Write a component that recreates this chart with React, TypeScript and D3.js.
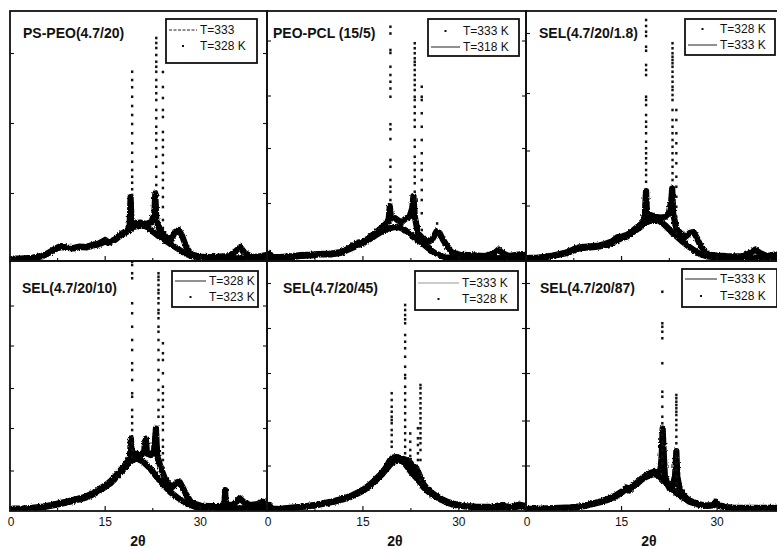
import React from 'react';
import * as d3 from 'd3';

type Pt = [number, number];
type Col = [number, number[]];

// ---------- Panel 1: PS-PEO(4.7/20) ----------
const p1Line: Pt[] = [[0.5,0.8],[2,0.9],[3.5,1.2],[5,1.8],[6,3],[7,4.6],[8,5.6],[9,5.2],[10,5],[11,5.6],[12,5.4],[13,6.2],[14,6.6],[15,7.8],[15.5,7.2],[16.5,8.4],[17.5,10.4],[18.5,11.8],[19.5,13.6],[20.5,14.4],[21.5,13.8],[22.5,11.8],[23.5,9.8],[24.5,8.2],[25.5,6.4],[26.5,4.8],[27.5,3.2],[28.5,2],[30,1.4],[32,1.1],[34,1.2],[36,1.1],[38,1.0],[40.4,1.1]];
const p1DotBase: Pt[] = [[0.5,1],[2,1],[3.5,1.3],[5,2],[6,3.2],[7,4.8],[8,6],[9,5.4],[10,5.2],[11,5.8],[12,5.6],[13,6.4],[14,7],[15,8.4],[15.5,7.4],[16.5,8.6],[17.5,10.8],[18.5,12.2],[18.85,14],[19.0,25.6],[19.15,15.2],[19.5,15],[20.5,15.4],[21.5,14.8],[22.3,15.6],[22.75,19],[22.9,27],[23.05,16.5],[23.5,13],[24.5,9.8],[25.3,8],[26,11.6],[26.6,12.4],[27.1,10.2],[27.8,5.4],[28.6,2.6],[30,1.8],[31.5,1.6],[33,1.8],[34.5,2],[35.5,3.8],[36.3,5.6],[37,3.2],[38,1.8],[39,1.7],[40.4,2.4]];
const p1DotCols: Col[] = [
  [19.25, [75.7,72.4,69.5,65.7,62,58.4,54.8,51.1,47.1,43.3,39.7,36.4,33.7,31.3,28.7,26.4]],
  [23.05, [89.2,87.2,85.2,82.4,79.7,77.7,75.7,72.4,69.7,67.1,64.4,60.4,57.1,53.7,51.1,48.4,45.1,41.7,37.7,33.7,30.4,27.7]],
  [24.1, [75.6,69.6,65.2,60.4,57.6,51.6,48.4,45.6,42.4,39.2,35.2,32.4,29.2,25.6,21.6,16.4,13.2]],
];
const p1YTicks = [27, 55, 83];

// ---------- Panel 2: PEO-PCL (15/5) ----------
const p2Line: Pt[] = [[0.5,1.2],[2,1.1],[4,1.6],[5.25,2],[7,2.2],[8,2.6],[10,2.6],[11.5,3.2],[12.6,4.4],[13.5,5.4],[14.2,6.4],[15,7],[15.8,8.4],[16.5,9.4],[17.3,10.8],[18.2,12.2],[19,13],[20,13.6],[21,13.2],[22,11.7],[23.1,9.1],[24.2,7.3],[25.2,5.1],[26.3,3.1],[27.8,1.5],[29.5,1.1],[32,1.1],[35,1.2],[38,1.1],[40.4,1.2]];
const p2DotBase: Pt[] = [[0.3,3.2],[0.8,1.6],[2,1.6],[4,2],[5.25,2.4],[7,2.6],[8,2.8],[10,3],[11.5,3.6],[12.6,4.8],[13.5,6.2],[14.2,7.4],[15,7.6],[15.8,9],[16.5,10.4],[17.3,12],[18.2,14],[18.8,15.4],[19.05,17],[19.2,22],[19.4,17],[20,17.2],[20.5,16.2],[21,15.4],[21.6,16.8],[22.3,17.8],[22.7,21],[22.9,26],[23.1,18],[23.6,11],[24.5,8.6],[25.2,7.6],[25.8,8.4],[26.5,11.8],[27,11.2],[27.5,8.6],[28,6.6],[28.9,3.4],[30,2.6],[31.5,2.4],[33,2.2],[34.1,2],[35.5,3],[36.2,4.6],[36.8,3.2],[37.8,2],[38.8,2.4],[39.9,2.8],[40.4,2.2]];
const p2DotCols: Col[] = [
  [19.3, [93.7,91,84.4,83.2,77.7,74.4,71.7,69,65.7,54.7,52.7,48.8,40.4,37.7,32.4,29.7,27.7,24.4]],
  [23.1, [87.1,85.1,83.1,81.1,79.7,78.4,76.4,74.4,72.4,70.4,68.4,65.7,64.4,61.7,59.1,56.4,53.7,48.4,45.7,41.7,39.1,36.4,33.7,31.1,27.7,24.4]],
  [24.2, [69.7,65.7,64.4,59.1,53.7,48.4,43.1,39.1,36.4,32.4,28.4,24.4,19.1,12.4]],
  [26.6, [15]],
];
const p2YTicks = [23, 45, 66, 88];

// ---------- Panel 3: SEL(4.7/20/1.8) ----------
const p3Line: Pt[] = [[0.5,1.1],[1.6,1.1],[3,1.5],[4.2,2],[5.3,2.6],[6.3,3.1],[7.4,4.2],[8.4,5.1],[9.5,5.3],[10.5,5.5],[11.5,5.8],[12.6,6.4],[13.5,7.2],[14.4,8.4],[15.1,9.2],[15.8,9.7],[16.5,11],[17.3,12.4],[18,13.6],[18.6,15],[19.7,16.4],[20.7,16.4],[21.8,14.4],[23.1,11],[24.4,8.1],[25.7,5.5],[27.3,2.8],[28.5,1.8],[29.4,1.5],[32.6,1.5],[36,1.4],[38,1.3],[40.4,1.4]];
const p3DotBase: Pt[] = [[0.5,1.3],[1.6,1.3],[3,1.7],[4.2,2.2],[5.3,2.8],[6.3,3.4],[7.4,4.6],[8.4,5.5],[9.5,5.8],[10.5,6],[11.5,6.2],[12.6,7],[13.5,7.8],[14.4,9.6],[15.1,9.8],[15.8,10.4],[16.5,11.6],[17.3,13.2],[18,14.6],[18.5,16],[18.7,21],[18.85,28],[19.0,18],[19.5,18.4],[20.2,17.8],[21,17.4],[21.8,17.6],[22.4,19],[22.8,24],[22.95,29],[23.1,19],[23.6,13],[24.3,11],[25,9.6],[25.7,11.2],[26.3,11.6],[26.8,9.4],[27.3,6.6],[28,4],[28.6,2.6],[30,2.2],[31.5,2],[33,1.9],[34.1,2],[35.3,3.4],[36,4.6],[36.6,3.4],[37.8,2],[39.1,2.6],[40.4,2.2]];
const p3DotCols: Col[] = [
  [18.85, [96.4,94,91.7,90,85.7,84.1,78.4,76.4,74.4,65.7,64.4,62.4,58.4,55.7,53.7,51.1,47.7,45.1,43.1,41.1,39.1,36.4,34.4,31.7]],
  [23.0, [87.1,85.1,83.1,81.7,80.4,79.1,77.7,75.7,73.7,71.7,69.7,68.4,66.4,64.4,60.4,56.4,53.7,51.1,48.4,45.7,43.1,40.4,37.7,35.1,32.4]],
  [23.6, [60.4,56.4,51.1,47.1,43.1,39.1,33.7,29.7,25.7,21.7,17.7,13.7,11.1]],
];
const p3YTicks = [22, 44, 67, 91];

// ---------- Panel 4: SEL(4.7/20/10) ----------
const p4Line: Pt[] = [[0.5,0.8],[2.1,0.8],[3.5,1.1],[5.25,1.5],[6.5,2.1],[7.9,2.8],[9,3.4],[10.5,4.4],[11.5,5],[12.6,6],[13.5,7.2],[14.2,8.4],[15,9.6],[15.8,11],[16.5,12.8],[17.3,15],[18,17],[18.6,19],[19.3,20.4],[20,21],[21,19.7],[22.1,17],[23.1,13.7],[24.2,10.4],[25.2,7.7],[26.3,5.5],[27.8,3.1],[29.4,1.5],[32.6,1.1],[36,1.1],[40.4,1.2]];
const p4DotBase: Pt[] = [[0.5,1],[2.1,1],[3.5,1.3],[5.25,1.8],[6.5,2.4],[7.9,3.2],[9,3.8],[10.5,4.8],[11.5,5.4],[12.6,6.6],[13.5,7.8],[14.2,9],[15,10.2],[15.8,11.8],[16.5,13.6],[17.3,16],[18,18],[18.6,20],[18.9,21.5],[19.05,29],[19.2,22],[19.8,23],[20.5,22.4],[21.1,23.6],[21.4,29],[21.6,23],[22.2,22.4],[22.7,24],[23.0,33],[23.2,22],[23.8,17],[24.5,12.4],[25.5,9.4],[26.3,11.4],[26.7,11.8],[27.3,9],[27.8,6.4],[28.6,3.2],[30,2.2],[31.5,2],[33,2],[33.8,2.4],[33.9,8.4],[34.0,2.4],[35.2,2.6],[36.2,5.1],[37,3.2],[37.8,2.4],[39,2.8],[39.9,3.7],[40.4,3]];
const p4DotCols: Col[] = [
  [19.25, [99.7,98.4,95.1,93.1,83.1,79.1,73.7,68.4,64.4,59.1,56.4,52.4,47.1,45.7,40.4,37.7,35.1,32.4,29.7,27.1,24.4,21.7]],
  [23.4, [95.1,93.7,92.4,90.4,88.4,87.1,85.1,83.1,80.4,79.1,77.1,73.7,71.7,68.4,64.4,60.4,56.4,52.4,48.4,44.4,40.4,37.7]],
  [24.1, [67.1,63.1,60.4,55.1,49.7,47.1,44.4,41.7,37.7,35.1,32.4,28.4,25.7,23.1,20.4,17.7,13.7]],
];
const p4YTicks = [16, 33, 49, 66, 82];

// ---------- Panel 5: SEL(4.7/20/45) ----------
const p5Line: Pt[] = [[0.5,0.8],[2.1,0.7],[3.5,1.1],[5.25,1.5],[6.5,1.9],[7.9,2.4],[9,3],[10.5,3.7],[11.8,4.6],[13.1,5.7],[14.2,7],[15.2,8.4],[16,10],[16.8,11.7],[17.5,13.4],[18.1,15],[18.7,16.8],[19.2,18.4],[19.7,19.6],[20.2,20.1],[20.8,20.2],[21.3,19.7],[21.8,18.2],[22.3,16.4],[22.8,14.8],[23.4,13.1],[23.9,11.4],[24.4,9.7],[25,8.2],[25.7,6.8],[26.5,5.6],[27.3,4.4],[28.3,3.2],[29.4,2.4],[31,1.8],[32.6,1.5],[35,1.4],[36.8,1.6],[38.5,1.4],[39.9,2],[40.4,1.6]];
const p5DotBase: Pt[] = [[0.3,2.4],[0.8,1],[2.1,0.9],[3.5,1.3],[5.25,1.7],[6.5,2.1],[7.9,2.6],[9,3.2],[10.5,4],[11.8,4.9],[13.1,6],[14.2,7.4],[15.2,8.8],[16,10.4],[16.8,12.2],[17.5,14],[18.1,15.6],[18.7,17.8],[19.2,20.2],[19.7,21.4],[20.2,21.6],[20.8,21.2],[21.3,20.8],[21.8,20.4],[22.3,19.6],[22.8,18],[23.3,17.2],[23.7,15.2],[24.1,13],[24.5,10.6],[25,9],[25.7,7.4],[26.5,6],[27.3,4.8],[28.3,3.6],[29.4,2.8],[31,2],[32.6,1.8],[35,1.7],[36.8,2.4],[37.5,1.8],[38.5,1.7],[39.4,2.6],[40.4,2]];
const p5DotCols: Col[] = [
  [19.5, [47.1,44.4,41.7,39.7,37.7,36.4,35.1,32.4,30.4,27.7,25.7]],
  [21.6, [82.4,80.4,78.4,76.7,75.1,70.4,67.7,65.1,61.7,57.7,54.4,53.1,49.7,47.1,44.4,41.7,39.1,36.4,33.7,31.1,28.4,25.7,23.1]],
  [22.4, [31,27.7,24.4,22,20.4]],
  [23.6, [33.1,29.1,26.4,23.1,20.4,17.4]],
  [24.0, [50.4,49.1,47.1,45.1,43.1,41.1,39.1,37.1,35.1,33.1,31.1,29.1,27.1,24.4,20.4,15.1,12.4]],
];
const p5YTicks = [18, 36, 55, 73, 91];

// ---------- Panel 6: SEL(4.7/20/87) ----------
const p6Line: Pt[] = [[0.5,0.7],[1.6,0.7],[3.5,0.9],[5.25,1.1],[7,1.3],[7.9,1.5],[9.2,2],[10.5,2.8],[11.8,3.6],[13.1,4.7],[14.2,6],[15.2,7.7],[15.7,8.8],[16.2,8.2],[16.8,9.7],[17.5,11],[18.1,12.4],[18.7,13.4],[19.2,14],[19.7,14.5],[20.2,14.8],[20.6,14.4],[21,13.7],[21.5,12.4],[22.1,11],[22.6,9.7],[23.1,8.4],[23.6,7.2],[24.2,6],[25,4.8],[25.7,3.7],[26.5,3],[27.3,2.4],[28.5,2],[29.4,2.2],[29.8,3.2],[30.3,2],[31.5,1.4],[32.6,1.1],[35,1.1],[38,1.1],[40.4,1.1]];
const p6DotBase: Pt[] = [[0.5,0.9],[1.6,0.9],[3.5,1.1],[5.25,1.3],[7,1.5],[7.9,1.7],[9.2,2.2],[10.5,3],[11.8,3.9],[13.1,5],[14.2,6.4],[15.2,8],[15.7,9.4],[16.2,8.6],[16.8,10.1],[17.5,11.5],[18.1,12.9],[18.7,14],[19.2,14.8],[19.7,15.4],[20.2,15.7],[20.7,15.6],[21.1,16.2],[21.3,22],[21.45,33],[21.6,24],[21.8,14],[22.2,10.8],[22.6,8.8],[23.0,10],[23.4,14],[23.6,24],[23.75,14],[24.1,9],[24.6,6.6],[25.3,4.8],[26,3.8],[27,2.8],[28.2,2.2],[29.4,2.4],[29.8,3.7],[30.3,2.3],[31.5,1.6],[32.6,1.3],[35,1.3],[38,1.3],[40.4,1.3]];
const p6DotCols: Col[] = [
  [21.4, [87.7,75.1,73.7,71.7,69.1,59.1,47.7,45.7,41.7,37.7,35.1,32.4,30.4,27.7,26.4,24.4,21.7,19.1]],
  [23.6, [46.4,45.1,43.7,42.4,41.1,39.7,38.4,36.4,34.4,32.4,29.7,27.1,24.4,21.7,19.1,16.4,13.7,11.1]],
];
const p6YTicks = [18, 36, 55, 73, 91];

// ---------- labels ----------
const titles = ['PS-PEO(4.7/20)', 'PEO-PCL (15/5)', 'SEL(4.7/20/1.8)', 'SEL(4.7/20/10)', 'SEL(4.7/20/45)', 'SEL(4.7/20/87)'];
// legend entries: [label, kind]  kind: 'line' | 'dot'
const legends: [string, string][][] = [
  [['T=333', 'line'], ['T=328 K', 'dot']],
  [['T=333 K', 'dot'], ['T=318 K', 'line']],
  [['T=328 K', 'dot'], ['T=333 K', 'line']],
  [['T=328 K', 'line'], ['T=323 K', 'dot']],
  [['T=333 K', 'line'], ['T=328 K', 'dot']],
  [['T=333 K', 'line'], ['T=328 K', 'dot']],
];
const xTickLabels = [0, 15, 30];
const xMinorTicks = [7.5, 22.5, 37.5];
const xLabel = '2θ';

const lineSeries = [p1Line, p2Line, p3Line, p4Line, p5Line, p6Line];
const dotBaseSeries = [p1DotBase, p2DotBase, p3DotBase, p4DotBase, p5DotBase, p6DotBase];
const dotColSeries = [p1DotCols, p2DotCols, p3DotCols, p4DotCols, p5DotCols, p6DotCols];
const yTickSeries = [p1YTicks, p2YTicks, p3YTicks, p4YTicks, p5YTicks, p6YTicks];

// ---------- layout (positions / styles) ----------
const panelLayout = [
  { x: 10, y: 11, w: 257, h: 250, tx: 23, ty: 38, lg: [166, 19, 91, 44], ly: [30, 46], ltx: 200, dashed: true, faint: false },
  { x: 267, y: 11, w: 259, h: 250, tx: 273, ty: 38, lg: [428, 19, 91, 37], ly: [31, 47], ltx: 463, dashed: false, faint: false },
  { x: 526, y: 11, w: 258, h: 250, tx: 539, ty: 38, lg: [685, 19, 90, 36], ly: [29, 45], ltx: 720, dashed: false, faint: false },
  { x: 10, y: 261, w: 257, h: 250, tx: 22, ty: 293, lg: [172, 271, 86, 36], ly: [281, 297], ltx: 209, dashed: false, faint: false },
  { x: 267, y: 261, w: 259, h: 250, tx: 283, ty: 293, lg: [415, 271, 103, 39], ly: [283, 299], ltx: 462, dashed: false, faint: true },
  { x: 526, y: 261, w: 258, h: 250, tx: 540, ty: 293, lg: [682, 269, 95, 38], ly: [279, 296], ltx: 720, dashed: false, faint: false },
];
const xLabelPos = [138, 395, 649];

const FONT = 'Liberation Sans, Arial, Helvetica, sans-serif';

function Panel({ i }: { i: number }) {
  const L = panelLayout[i];
  const xs = d3.scaleLinear().domain([0, 40.5]).range([L.x, L.x + L.w]);
  const ys = d3.scaleLinear().domain([0, 100]).range([L.y + L.h, L.y]);
  const gen = d3.line<Pt>().x(d => xs(d[0])).y(d => ys(d[1])).curve(d3.curveLinear);
  const clipId = `clip${i}`;
  const [bx, by, bw, bh] = L.lg;
  const bottom = L.y + L.h;
  return (
    <g>
      <defs>
        <clipPath id={clipId}>
          <rect x={L.x} y={L.y} width={L.w} height={L.h} />
        </clipPath>
      </defs>
      <g clipPath={`url(#${clipId})`}>
        <g filter="url(#rough)">
          <path d={gen(lineSeries[i]) || ''} fill="none" stroke="#000" strokeWidth={6.2} strokeLinejoin="round" strokeLinecap="round" />
          <path d={gen(dotBaseSeries[i]) || ''} fill="none" stroke="#000" strokeWidth={6.2} strokeLinejoin="round" strokeLinecap="round" />
        </g>
        {dotColSeries[i].map(([t, vals], ci) =>
          vals.map((v, k) => (
            <rect key={`${ci}-${k}`} x={xs(t) - 1.2} y={ys(v) - 1.3} width={2.4} height={2.6} fill="#111" />
          ))
        )}
      </g>
      {/* frame */}
      <rect x={L.x} y={L.y} width={L.w} height={L.h} fill="none" stroke="#111" strokeWidth={1.8} />
      {/* x ticks */}
      {xTickLabels.map(t => (
        <line key={`xt${t}`} x1={xs(t)} x2={xs(t)} y1={bottom} y2={bottom - 5} stroke="#111" strokeWidth={1.2} />
      ))}
      {xMinorTicks.map(t => (
        <line key={`xm${t}`} x1={xs(t)} x2={xs(t)} y1={bottom} y2={bottom - 3} stroke="#111" strokeWidth={1.1} />
      ))}
      {/* y ticks */}
      {yTickSeries[i].map(v => (
        <g key={`yt${v}`}>
          <line x1={L.x} x2={L.x + 4} y1={ys(v)} y2={ys(v)} stroke="#111" strokeWidth={1.1} />
          <line x1={L.x + L.w} x2={L.x + L.w - 4} y1={ys(v)} y2={ys(v)} stroke="#111" strokeWidth={1.1} />
        </g>
      ))}
      {/* title */}
      <text x={L.tx} y={L.ty} fontFamily={FONT} fontWeight="bold" fontSize={14} fill="#111">{titles[i]}</text>
      {/* legend */}
      <rect x={bx} y={by} width={bw} height={bh} fill="#fff" stroke="#111" strokeWidth={1.8} />
      {legends[i].map(([label, kind], k) => {
        const yy = L.ly[k];
        return (
          <g key={`lg${k}`}>
            {kind === 'line' ? (
              <line x1={bx + 3} x2={L.ltx - 3} y1={yy} y2={yy}
                stroke={L.faint ? '#999' : '#222'} strokeWidth={1}
                strokeDasharray={L.dashed ? '3,1.5' : undefined} />
            ) : (
              <rect x={(bx + L.ltx) / 2 - 1} y={yy - 1} width={2} height={2} fill="#111" />
            )}
            <text x={L.ltx} y={yy + 4} fontFamily={FONT} fontSize={12} fill="#111">{label}</text>
          </g>
        );
      })}
      {/* bottom-row tick labels */}
      {i >= 3 && xTickLabels.map(t => (
        <text key={`xl${t}`} x={xs(t) + (t === 0 ? 1 : 0)} y={526} textAnchor="middle" fontFamily={FONT} fontSize={12} fill="#111">{t}</text>
      ))}
      {i >= 3 && (
        <text x={xLabelPos[i - 3]} y={546} textAnchor="middle" fontFamily={FONT} fontWeight="bold" fontSize={14} fill="#111">{xLabel}</text>
      )}
    </g>
  );
}

export default function App() {
  return (
    <svg width={777} height={549} viewBox="0 0 777 549"
      style={{ position: 'absolute', left: 0, top: 0, background: '#fff', display: 'block' }}>
      <defs>
        <filter id="rough" x="-5%" y="-20%" width="110%" height="140%">
          <feTurbulence type="fractalNoise" baseFrequency="0.7 0.4" numOctaves={2} seed={3} result="noise" />
          <feDisplacementMap in="SourceGraphic" in2="noise" scale={3} xChannelSelector="R" yChannelSelector="G" />
        </filter>
      </defs>
      <rect x={0} y={0} width={777} height={549} fill="#fff" />
      {[0, 1, 2, 3, 4, 5].map(i => <Panel key={i} i={i} />)}
    </svg>
  );
}
